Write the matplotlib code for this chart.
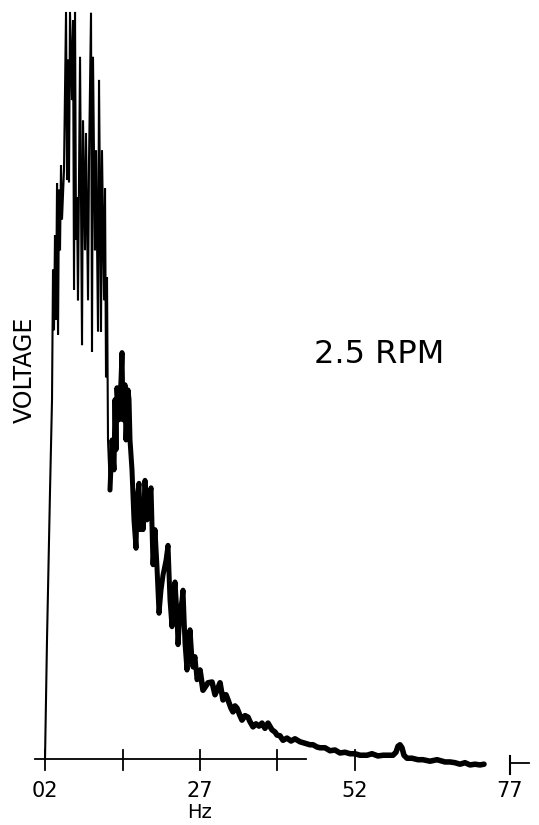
import numpy as np
import matplotlib
matplotlib.use("Agg")
import matplotlib.pyplot as plt

# ---------------------------------------------------------
# Datos leídos del espectro (frecuencia en Hz, voltaje relativo)
# ---------------------------------------------------------
freq = [
    2.00, 2.32, 2.81, 3.13, 3.29, 3.45, 3.61, 3.77, 3.94, 4.10,
    4.26, 4.42, 4.58, 4.74, 5.06, 5.39, 5.55, 5.71, 5.87, 6.03,
    6.35, 6.52, 6.68, 6.84, 7.00, 7.16, 7.32, 7.65, 7.81, 7.97,
    8.13, 8.45, 8.61, 8.94, 9.10, 9.42, 9.58, 9.74, 10.06, 10.23,
    10.55, 10.71, 10.87, 11.03, 11.19, 11.52, 11.68, 11.84, 12.00, 12.16,
    12.48, 12.81, 13.13, 13.29, 13.45, 13.61, 13.94, 14.26, 14.42, 14.58,
    14.90, 15.06, 15.39, 15.55, 15.71, 16.03, 16.35, 16.68, 16.84, 17.16,
    17.32, 17.65, 17.81, 18.13, 18.45, 18.77, 19.10, 19.42, 19.74, 20.06,
    20.39, 20.71, 21.03, 21.52, 21.84, 22.16, 22.48, 22.81, 22.97, 23.29,
    23.45, 23.77, 24.10, 24.26, 24.58, 24.90, 25.06, 25.39, 25.71, 25.87,
    26.19, 26.52, 27.00, 27.48, 27.81, 28.29, 28.94, 29.42, 29.90, 30.23,
    30.71, 31.19, 31.52, 32.00, 32.32, 32.65, 32.97, 33.45, 33.77, 34.26,
    34.74, 35.06, 35.55, 36.03, 36.52, 37.00, 37.48, 37.97, 38.61, 39.10,
    39.42, 39.90, 40.39, 41.03, 41.68, 42.32, 43.13, 43.94, 44.74, 45.23,
    45.87, 46.35, 47.16, 47.97, 48.77, 49.58, 50.39, 51.19, 52.00, 52.81,
    53.94, 54.74, 55.71, 56.52, 57.32, 58.13, 58.61, 58.94, 59.26, 59.58,
    59.90, 60.39, 61.19, 62.16, 62.97, 64.10, 65.23, 66.52, 67.32, 68.13,
    68.94, 69.74, 70.55, 71.35, 72.16, 72.81,
]
voltaje = [
    0.000, 0.159, 0.360, 0.481, 0.655, 0.574, 0.701, 0.588, 0.771, 0.568,
    0.762, 0.681, 0.795, 0.722, 0.788, 1.000, 0.775, 0.936, 0.772, 1.000,
    0.882, 0.989, 0.628, 1.000, 0.695, 0.752, 0.614, 0.940, 0.748, 0.554,
    0.855, 0.681, 0.838, 0.614, 0.802, 0.999, 0.545, 0.940, 0.681, 0.815,
    0.572, 0.909, 0.748, 0.572, 0.815, 0.614, 0.764, 0.511, 0.645, 0.427,
    0.360, 0.427, 0.387, 0.481, 0.414, 0.497, 0.454, 0.507, 0.544, 0.454,
    0.501, 0.427, 0.494, 0.481, 0.427, 0.387, 0.320, 0.282, 0.347, 0.369,
    0.307, 0.347, 0.307, 0.373, 0.320, 0.347, 0.363, 0.260, 0.307, 0.257,
    0.195, 0.226, 0.246, 0.266, 0.286, 0.213, 0.177, 0.220, 0.237, 0.193,
    0.153, 0.193, 0.213, 0.226, 0.155, 0.119, 0.139, 0.173, 0.133, 0.123,
    0.137, 0.106, 0.119, 0.092, 0.096, 0.102, 0.103, 0.086, 0.095, 0.102,
    0.079, 0.086, 0.079, 0.068, 0.063, 0.071, 0.068, 0.058, 0.052, 0.058,
    0.056, 0.050, 0.043, 0.047, 0.044, 0.048, 0.041, 0.048, 0.039, 0.036,
    0.032, 0.031, 0.025, 0.028, 0.024, 0.027, 0.023, 0.021, 0.019, 0.019,
    0.016, 0.015, 0.015, 0.011, 0.012, 0.008, 0.009, 0.007, 0.007, 0.005,
    0.005, 0.007, 0.004, 0.005, 0.005, 0.005, 0.009, 0.017, 0.019, 0.015,
    0.005, 0.001, 0.001, -0.001, -0.001, -0.003, -0.001, -0.004, -0.004, -0.005,
    -0.007, -0.005, -0.008, -0.007, -0.008, -0.007,
]

marcas = [2, 14.5, 27, 39.5, 52]
etiquetas_pos = [2, 27, 52, 77]
etiquetas = ["02", "27", "52", "77"]

# ---------------------------------------------------------
# Gráfico
# ---------------------------------------------------------
f = np.array(freq)
v = np.array(voltaje)

fig = plt.figure(figsize=(5.39, 8.25), dpi=100)
ax = fig.add_axes([0, 0, 1, 1])
ax.set_xlim(-5.26, 81.68)
ax.set_ylim(-0.0884, 1.016)
ax.axis("off")

# eje horizontal (visible sólo en la parte izquierda) y marcas
ax.plot([0.4, 44.1], [0, 0], color="black", lw=1.3)
for m in marcas:
    ax.plot([m, m], [0.012, -0.015], color="black", lw=1.3)
ax.plot([77, 77], [0.004, -0.020], color="black", lw=1.5)
ax.plot([77, 80], [-0.005, -0.005], color="black", lw=1.3)

# traza: parte ruidosa fina, zona media densa y cola gruesa
corte1 = 50
corte2 = 102
ax.plot(f[:corte1 + 1], v[:corte1 + 1], color="black", lw=1.5, solid_joinstyle="miter")
ax.plot(f[corte1:corte2 + 1], v[corte1:corte2 + 1], color="black", lw=3.6,
        solid_joinstyle="round", solid_capstyle="round")
ax.plot(f[corte2:], v[corte2:], color="black", lw=4.0,
        solid_joinstyle="round", solid_capstyle="round")

for p, t in zip(etiquetas_pos, etiquetas):
    ax.text(p, -0.043, t, ha="center", va="center", fontsize=15)
ax.text(27, -0.071, "Hz", ha="center", va="center", fontsize=14)
ax.text(-1.23, 0.521, "VOLTAGE", rotation=90, ha="center", va="center", fontsize=17)
ax.text(55.9, 0.541, "2.5 RPM", ha="center", va="center", fontsize=23)

fig.savefig("out.png", dpi=100)
plt.close(fig)
